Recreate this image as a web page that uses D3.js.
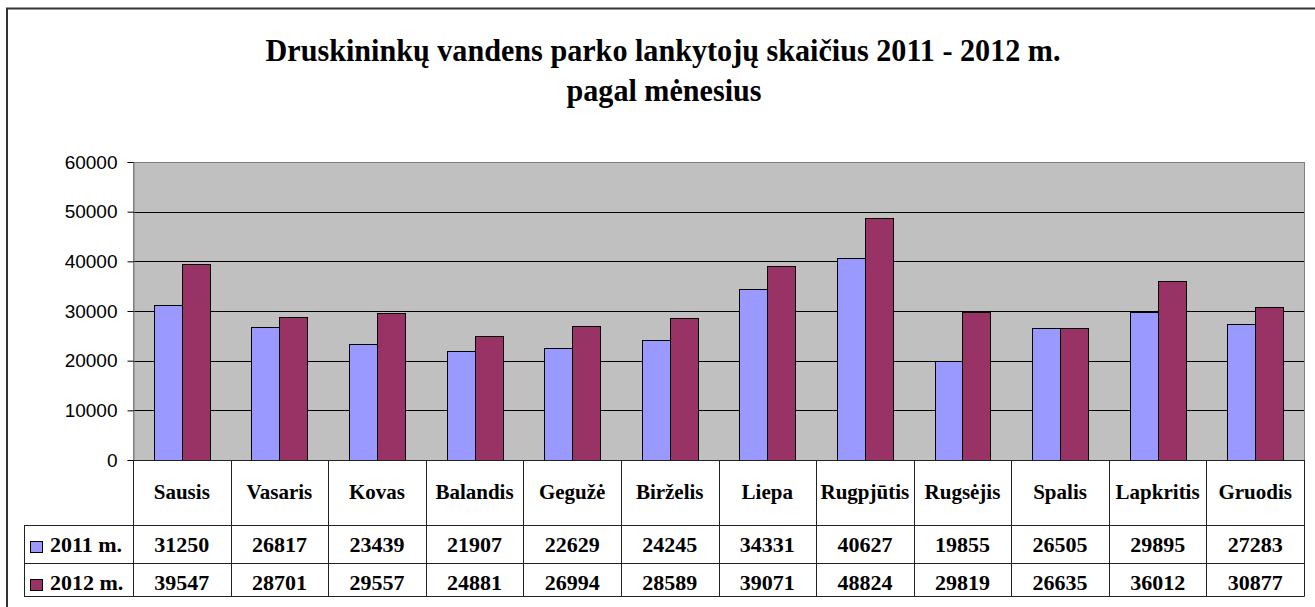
<!DOCTYPE html>
<html>
<head>
<meta charset="utf-8">
<script src="https://cdn.jsdelivr.net/npm/d3@7"></script>
<style>
  body { margin: 0; background: #fff; }
  svg { display: block; }
</style>
</head>
<body>
<svg id="chart" width="1315" height="607"></svg>
<script>
// data
var months = ["Sausis", "Vasaris", "Kovas", "Balandis", "Gegužė", "Birželis",
              "Liepa", "Rugpjūtis", "Rugsėjis", "Spalis", "Lapkritis", "Gruodis"];
var series = ["2011 m.", "2012 m."];
var values2011 = [31250, 26817, 23439, 21907, 22629, 24245, 34331, 40627, 19855, 26505, 29895, 27283];
var values2012 = [39547, 28701, 29557, 24881, 26994, 28589, 39071, 48824, 29819, 26635, 36012, 30877];
var yTicks = [0, 10000, 20000, 30000, 40000, 50000, 60000];
var titleLines = ["Druskininkų vandens parko lankytojų skaičius 2011 - 2012 m.", "pagal mėnesius"];

var colors = ["#9999FF", "#993366"];
var allValues = [values2011, values2012];

var svg = d3.select("#chart");

// plot box (note: "top" is taken by window.top, so plotTop etc.)
var plotLeft = 133, plotRight = 1304, plotTop = 162, plotBottom = 460;
var row1 = 525, row2 = 563, row3 = 596, legendLeft = 24;

// outer chart frame (runs off the page on right/bottom)
svg.append("path")
  .attr("d", "M7,1000 L7,8.5 L1400,8.5")
  .attr("fill", "none")
  .attr("stroke", "#333")
  .attr("stroke-width", 2);

// title
svg.append("text")
  .attr("x", 663).attr("y", 61)
  .attr("text-anchor", "middle")
  .attr("font-family", "'Liberation Serif', 'Times New Roman', serif")
  .attr("font-weight", "bold")
  .attr("font-size", 31)
  .attr("textLength", 795)
  .attr("lengthAdjust", "spacingAndGlyphs")
  .text(titleLines[0]);
svg.append("text")
  .attr("x", 664).attr("y", 101)
  .attr("text-anchor", "middle")
  .attr("font-family", "'Liberation Serif', 'Times New Roman', serif")
  .attr("font-weight", "bold")
  .attr("font-size", 31)
  .attr("textLength", 195)
  .attr("lengthAdjust", "spacingAndGlyphs")
  .text(titleLines[1]);

var x = d3.scaleBand().domain(months).range([plotLeft, plotRight]).padding(0);
var xs = d3.scaleBand().domain(series).range([0, x.bandwidth()]).paddingInner(0).paddingOuter(0.75);
var y = d3.scaleLinear().domain([0, 60000]).range([plotBottom, plotTop]);

// plot background
svg.append("rect")
  .attr("x", plotLeft + 0.5).attr("y", plotTop + 0.5)
  .attr("width", plotRight - plotLeft).attr("height", plotBottom - plotTop)
  .attr("fill", "#C0C0C0")
  .attr("stroke", "#808080");

// gridlines
svg.append("g")
  .selectAll("line")
  .data(yTicks.filter(function (d) { return d > 0 && d < 60000; }))
  .enter().append("line")
  .attr("x1", plotLeft).attr("x2", plotRight)
  .attr("y1", function (d) { return Math.round(y(d)) + 0.5; })
  .attr("y2", function (d) { return Math.round(y(d)) + 0.5; })
  .attr("stroke", "#000");

// bars
series.forEach(function (s, i) {
  svg.append("g")
    .selectAll("rect")
    .data(allValues[i])
    .enter().append("rect")
    .attr("x", function (d, j) { return Math.round(x(months[j]) + xs(s)) + 0.5; })
    .attr("y", function (d) { return Math.round(y(d)) + 0.5; })
    .attr("width", Math.round(xs.bandwidth()))
    .attr("height", function (d) { return Math.round(y(0)) - Math.round(y(d)); })
    .attr("fill", colors[i])
    .attr("stroke", "#000")
    .attr("stroke-width", 1);
});

// y axis
var yAxis = svg.append("g")
  .attr("transform", "translate(" + (plotLeft + 0.5) + ",0)")
  .call(d3.axisLeft(y).tickValues(yTicks).tickSize(6).tickPadding(10).tickFormat(d3.format("d")));
yAxis.select(".domain").attr("stroke", "#808080");
yAxis.selectAll(".tick line").attr("stroke", "#000");
yAxis.selectAll("text")
  .attr("font-family", "'Liberation Sans', Arial, sans-serif")
  .attr("font-size", 19)
  .attr("fill", "#000");

// data table
var grid = svg.append("g").attr("stroke", "#222").attr("stroke-width", 1);
// horizontal lines
[[plotLeft, plotBottom], [legendLeft, row1], [legendLeft, row2], [legendLeft, row3]].forEach(function (h) {
  grid.append("line")
    .attr("x1", h[0]).attr("x2", plotRight + 0.5)
    .attr("y1", h[1] + 0.5).attr("y2", h[1] + 0.5);
});
// vertical lines
var edges = months.map(function (m) { return x(m); }).concat([plotRight]);
grid.selectAll("line.v")
  .data(edges)
  .enter().append("line")
  .attr("class", "v")
  .attr("x1", function (d) { return Math.round(d) + 0.5; })
  .attr("x2", function (d) { return Math.round(d) + 0.5; })
  .attr("y1", plotBottom).attr("y2", row3 + 0.5);
grid.append("line")
  .attr("x1", legendLeft + 0.5).attr("x2", legendLeft + 0.5)
  .attr("y1", row1).attr("y2", row3 + 0.5);

var serif = "'Liberation Serif', 'Times New Roman', serif";

// category names
svg.append("g")
  .selectAll("text")
  .data(months)
  .enter().append("text")
  .attr("x", function (d) { return x(d) + x.bandwidth() / 2; })
  .attr("y", 499)
  .attr("text-anchor", "middle")
  .attr("font-family", serif)
  .attr("font-weight", "bold")
  .attr("font-size", 21)
  .text(function (d) { return d; });

// values rows + legend keys
var rowBase = [552, 590];
series.forEach(function (s, i) {
  svg.append("g")
    .selectAll("text")
    .data(allValues[i])
    .enter().append("text")
    .attr("x", function (d, j) { return x(months[j]) + x.bandwidth() / 2; })
    .attr("y", rowBase[i])
    .attr("text-anchor", "middle")
    .attr("font-family", serif)
    .attr("font-weight", "bold")
    .attr("font-size", 22)
    .text(function (d) { return d; });

  svg.append("rect")
    .attr("x", 30.5).attr("y", rowBase[i] - 10.5)
    .attr("width", 12).attr("height", 11)
    .attr("fill", colors[i])
    .attr("stroke", "#000");

  svg.append("text")
    .attr("x", 50).attr("y", rowBase[i])
    .attr("font-family", serif)
    .attr("font-weight", "bold")
    .attr("font-size", 22)
    .text(s);
});
</script>
</body>
</html>
